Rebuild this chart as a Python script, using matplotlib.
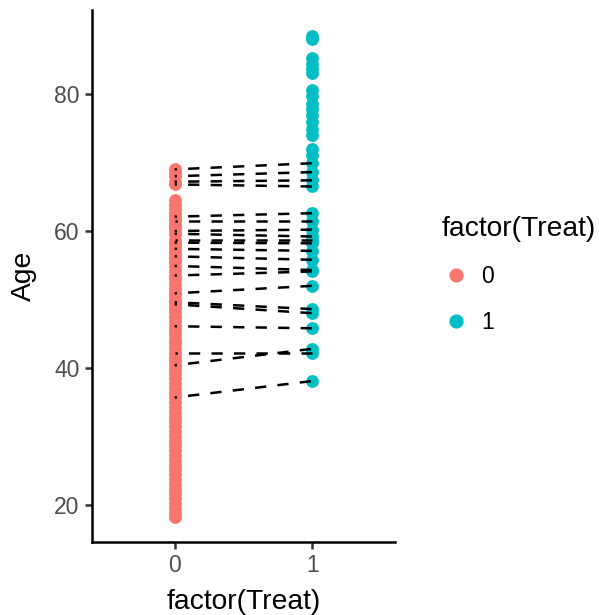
import matplotlib
matplotlib.use("Agg")
import matplotlib.pyplot as plt
from matplotlib.lines import Line2D

plt.rcParams['font.family'] = ['Liberation Sans', 'DejaVu Sans']

# ages of matched pairs (control -> treated)
pair_control = [69.0, 68.0, 67.2, 66.8, 62.1, 61.4, 60.0, 59.6, 58.7, 58.3, 57.4,
                56.3, 54.9, 53.5, 50.9, 49.6, 49.3, 46.1, 42.2, 40.4, 35.7]
pair_treated = [69.9, 68.6, 67.4, 66.5, 62.6, 61.4, 60.2, 59.2, 58.7, 58.2, 57.1,
                55.8, 54.3, 54.1, 52.0, 48.6, 48.0, 45.8, 42.2, 42.8, 38.1]

# unmatched units
other_control = [18.3, 18.9, 19.6, 20.3, 21.0, 21.7, 22.4, 23.1, 23.8, 24.5, 25.2,
                 25.9, 26.6, 27.3, 28.0, 28.7, 29.4, 30.1, 30.8, 31.5, 32.2, 32.9,
                 33.6, 34.3, 35.0, 36.4, 37.1, 37.8, 38.5, 39.2, 39.9, 41.0, 41.6,
                 42.9, 43.6, 44.3, 45.0, 45.6, 46.8, 47.5, 48.2, 48.7, 50.1, 50.6,
                 51.6, 52.3, 53.0, 54.2, 55.5, 56.0, 56.8, 57.8, 60.5, 60.9, 61.8,
                 62.6, 63.2, 63.8, 64.5, 68.4]
other_treated = [88.5, 88.1, 85.2, 84.4, 83.6, 83.0, 80.6, 79.7, 78.5, 77.8, 76.9,
                 75.9, 74.9, 74.0, 72.0, 71.1]

groups = ['0', '1']
colors = ['#F8766D', '#00BFC4']
yticks = [20, 40, 60, 80]

control = other_control + pair_control
treated = other_treated + pair_treated

fig = plt.figure(figsize=(5.99, 6.15), dpi=100)
ax = fig.add_axes([0.1536, 0.1187, 0.6594 - 0.1536, 0.983 - 0.1187])

ax.scatter([0] * len(control), control, s=85, color=colors[0], linewidths=0, zorder=2)
ax.scatter([1] * len(treated), treated, s=85, color=colors[1], linewidths=0, zorder=2)

for c, t in zip(pair_control, pair_treated):
    ax.plot([0, 1], [c, t], color='black', lw=1.8, linestyle=(3.6, (4.5, 4.5)),
            solid_capstyle='butt', dash_capstyle='butt', zorder=3)

ax.set_xlim(-0.6, 1.6)
ax.set_ylim(14.6, 92.2)
ax.set_xticks([0, 1])
ax.set_xticklabels(groups)
ax.set_yticks(yticks)

for s in ['top', 'right']:
    ax.spines[s].set_visible(False)
for s in ['left', 'bottom']:
    ax.spines[s].set_linewidth(1.8)
    ax.spines[s].set_color('black')
ax.tick_params(length=5, width=1.8, color='#333333', labelsize=16.5,
               labelcolor='#4D4D4D', pad=4)

ax.set_xlabel('factor(Treat)', fontsize=20.3, labelpad=8)
ax.set_ylabel('Age', fontsize=20.3, labelpad=12)

handles = [Line2D([], [], marker='o', ls='', color=col, markersize=9.2) for col in colors]
leg = fig.legend(handles, groups, title='factor(Treat)', loc='upper left',
                 bbox_to_anchor=(0.738, 0.648), frameon=False, fontsize=16.5,
                 title_fontsize=20.3, handlelength=1.2, handletextpad=0.5,
                 labelspacing=1.0, borderpad=0, borderaxespad=0)
leg._legend_box.align = 'left'

fig.savefig('out.png', dpi=100)
